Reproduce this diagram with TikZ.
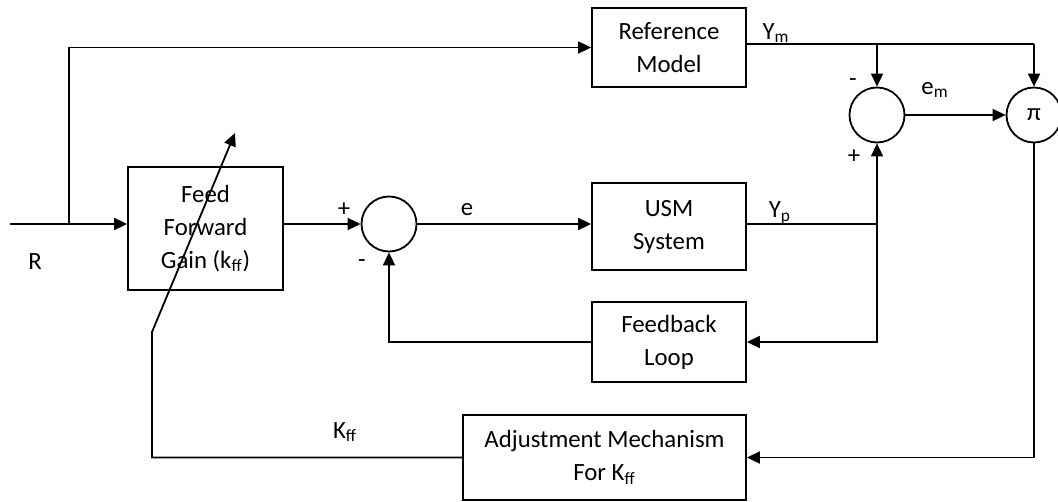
\documentclass[tikz,border=0pt]{standalone}
\usepackage{fontspec}
\setmainfont{Carlito}
\usetikzlibrary{arrows.meta, positioning}

\begin{document}
\begin{tikzpicture}[x=0.5pt, y=-0.5pt, line width=0.9pt,
    block/.style={draw, align=center, inner sep=0pt,
        font=\fontsize{12.4}{16.5}\selectfont},
    sumnode/.style={draw, circle, minimum size=27.5pt, inner sep=0pt},
    sig/.style={font=\fontsize{12.4}{14}\selectfont, inner sep=0pt},
    >={Triangle[length=6.5pt, width=6pt]}]

    % Fix the page to the size of the reference
    \useasboundingbox (0,0) rectangle (1058,502);

    % Blocks
    \node[block, minimum width=77.5pt, minimum height=61.5pt] (ff) at (205.5,228.5)
        {Feed\\Forward\\Gain (k\textsubscript{ff})};
    \node[block, minimum width=77pt, minimum height=39.5pt] (ref) at (669,47.5)
        {Reference\\Model};
    \node[block, minimum width=77pt, minimum height=43.5pt] (usm) at (669,226.5)
        {USM\\System};
    \node[block, minimum width=77pt, minimum height=40pt] (fb) at (669,342)
        {Feedback\\Loop};
    \node[block, minimum width=141.5pt, minimum height=42.5pt] (adj) at (604.5,457.5)
        {Adjustment Mechanism\\For K\textsubscript{ff}};

    % Summing junctions and multiplier
    \node[sumnode] (sum1) at (389,224) {};
    \node[sumnode] (sum2) at (877,115) {};
    \node[sumnode, font=\fontsize{12.4}{14}\selectfont] (mult) at (1034,115) {π};

    % Branch points
    \coordinate (in) at (10,224);
    \coordinate (split) at (69,224);
    \coordinate (ym) at (877,44);
    \coordinate (yp) at (877,224);
    \coordinate (kbend) at (152,332);
    \coordinate (ktip) at (235,133);

    % Forward path
    \draw (in) -- (split);
    \draw[->] (split) -- (split -| ff.west);
    \draw[->] (split) |- (ref.west);
    \draw[->] (ff.east |- sum1) -- (sum1.west);
    \draw[->] (sum1.east) -- (sum1 -| usm.west);

    % Plant output
    \draw (usm.east |- yp) -- (yp);
    \draw[->] (yp) -- (sum2.south);
    \draw[->] (yp) |- (fb.east);
    \draw[->] (fb.west) -| (sum1.south);

    % Model output
    \draw (ref.east |- ym) -- (ym -| mult);
    \draw[->] (ym) -- (sum2.north);
    \draw[->] (ym -| mult) -- (mult.north);
    \draw[->] (sum2.east) -- (mult.west);

    % Adaptation loop
    \draw[->] (mult.south) |- (adj.east);
    \draw[->] (adj.west) -| (kbend) -- (ktip);

    % Signal labels
    \node[sig] (rlab) at (35,262) {R};
    \node[sig] (plus1) at (344,210) {+};
    \node[sig] (minus1) at (362,264) {-};
    \node[sig] (elab) at (467,210) {e};
    \node[sig] (ymlab) at (776,33) {Y\textsubscript{m}};
    \node[sig] (yplab) at (780,213) {Y\textsubscript{p}};
    \node[sig] (minus2) at (853,83) {-};
    \node[sig] (plus2) at (854,157) {+};
    \node[sig] (minus3) at (909,119) {-};
    \node[sig] (emlab) at (935,90) {e\textsubscript{m}};
    \node[sig] (kfflab) at (345,432) {K\textsubscript{ff}};
\end{tikzpicture}
\end{document}
